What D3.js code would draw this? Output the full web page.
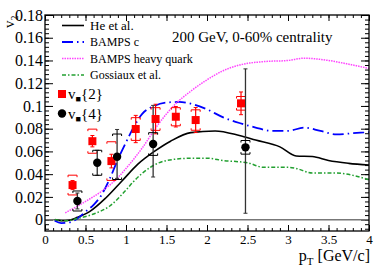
<!DOCTYPE html>
<html>
<head>
<meta charset="utf-8">
<script src="https://cdn.jsdelivr.net/npm/d3@7"></script>
<style>
  body { margin: 0; background: #fff; }
  text { font-family: "Liberation Serif", "DejaVu Serif", serif; fill: #000; }
</style>
</head>
<body>
<svg id="chart" width="382" height="276"></svg>
<script>
// model curves
let hePt = [0.12, 0.2, 0.3, 0.4, 0.55, 0.75, 0.95, 1.15, 1.35, 1.55, 1.8, 2.1, 2.4, 2.6, 2.9, 3.1, 3.3, 3.5, 3.75, 4.0];
let heV2 = [0, -0.001, -0.0005, 0.002, 0.007, 0.019, 0.034, 0.049, 0.060, 0.069, 0.0765, 0.078, 0.074, 0.070, 0.064, 0.056, 0.0555, 0.052, 0.0495, 0.048];

let bampsPt = [0.12, 0.2, 0.3, 0.4, 0.5, 0.6, 0.7, 0.8, 0.9, 1.0, 1.1, 1.2, 1.35, 1.5, 1.65, 1.8, 2.0, 2.2, 2.4, 2.6, 2.8, 3.0, 3.2, 3.4, 3.6, 3.8, 4.0];
let bampsV2 = [-0.001, -0.003, -0.0025, 0.001, 0.007, 0.013, 0.022, 0.036, 0.053, 0.068, 0.082, 0.093, 0.100, 0.103, 0.1035, 0.102, 0.097, 0.090, 0.085, 0.081, 0.078, 0.078, 0.081, 0.078, 0.075, 0.076, 0.077];

let heavyPt = [0.25, 0.5, 0.7, 0.9, 1.0, 1.2, 1.4, 1.6, 1.8, 2.0, 2.2, 2.4, 2.7, 3.0, 3.2, 3.5, 3.8, 4.0];
let heavyV2 = [0.006, 0.016, 0.025, 0.037, 0.045, 0.063, 0.084, 0.101, 0.113, 0.123, 0.131, 0.136, 0.139, 0.140, 0.142, 0.140, 0.136, 0.133];

let gossPt = [0.12, 0.25, 0.4, 0.6, 0.8, 1.0, 1.1, 1.3, 1.5, 1.8, 2.0, 2.2, 2.5, 2.7, 3.0, 3.1, 3.3, 3.6, 3.8, 4.0];
let gossV2 = [0, -0.001, 0.001, 0.005, 0.012, 0.026, 0.034, 0.046, 0.052, 0.054, 0.054, 0.052, 0.050, 0.046, 0.046, 0.045, 0.041, 0.041, 0.039, 0.035];

// v2{2} data
let v22Pt = [0.34, 0.585, 0.82, 1.12, 1.365, 1.615, 1.86, 2.42];
let v22 = [0.0304, 0.069, 0.0515, 0.0797, 0.0885, 0.0905, 0.0876, 0.1023];
let v22Stat = [0.004, 0.005, 0.006, 0.012, 0.013, 0.009, 0.011, 0.010];
let v22Sys = [0.0087, 0.0106, 0.017, 0.010, 0.010, 0.008, 0.009, 0.006];

// v2{4} data
let v24Pt = [0.40, 0.645, 0.89, 1.335, 2.475];
let v24 = [0.0164, 0.050, 0.0553, 0.0665, 0.0636];
let v24StatUp = [0.007, 0.011, 0.024, 0.034, 0.069];
let v24StatDown = [0.007, 0.011, 0.019, 0.029, 0.058];
let v24Sys = [0.0088, 0.011, 0.020, 0.010, 0.006];

let xTicks = [0, 0.5, 1, 1.5, 2, 2.5, 3, 3.5, 4];
let yTicks = [0, 0.02, 0.04, 0.06, 0.08, 0.1, 0.12, 0.14, 0.16, 0.18];

let margin = {top: 15, right: 13, bottom: 45, left: 45},
  width = 382 - margin.left - margin.right,
  height = 276 - margin.top - margin.bottom;

let serif = "'Liberation Serif', 'DejaVu Serif', serif";

let svg = d3.select("#chart");
let g = svg.append("g").attr("transform", `translate(${margin.left}, ${margin.top})`);

let x = d3.scaleLinear().domain([0, 4]).range([0, width]);
let y = d3.scaleLinear().domain([-0.01, 0.18]).range([height, 0]);

// axes, ticks pointing inward
function styleAxis(sel) {
  sel.attr("font-family", serif);
  sel.select(".domain").remove();
  sel.selectAll("line").attr("stroke", "#000").attr("stroke-width", 1);
}

let xMinor = d3.range(0, 41).map(d => d / 10);
let yMinor = d3.range(-2, 46).map(d => d * 0.004);

g.append("g").attr("transform", `translate(0, ${height})`)
  .call(d3.axisBottom(x).tickValues(xMinor).tickSize(-3).tickFormat(""))
  .call(styleAxis);
g.append("g").attr("transform", `translate(0, ${height})`)
  .call(d3.axisBottom(x).tickValues(xTicks).tickSize(-6).tickPadding(4).tickFormat(d3.format("")))
  .call(styleAxis)
  .attr("font-size", 13);
g.append("g")
  .call(d3.axisTop(x).tickValues(xMinor).tickSize(-3).tickFormat(""))
  .call(styleAxis);
g.append("g")
  .call(d3.axisTop(x).tickValues(xTicks).tickSize(-6).tickFormat(""))
  .call(styleAxis);

g.append("g")
  .call(d3.axisLeft(y).tickValues(yMinor).tickSize(-4).tickFormat(""))
  .call(styleAxis);
g.append("g")
  .call(d3.axisLeft(y).tickValues(yTicks).tickSize(-8).tickPadding(2).tickFormat(d3.format("")))
  .call(styleAxis)
  .attr("font-size", 16);
g.append("g").attr("transform", `translate(${width}, 0)`)
  .call(d3.axisRight(y).tickValues(yMinor).tickSize(-4).tickFormat(""))
  .call(styleAxis);
g.append("g").attr("transform", `translate(${width}, 0)`)
  .call(d3.axisRight(y).tickValues(yTicks).tickSize(-8).tickFormat(""))
  .call(styleAxis);

// zero line
g.append("line")
  .attr("x1", 0).attr("x2", width)
  .attr("y1", y(0)).attr("y2", y(0))
  .attr("stroke", "#777").attr("stroke-width", 1.5);

// model curves
let line = d3.line().x(d => x(d[0])).y(d => y(d[1])).curve(d3.curveMonotoneX);
let models = [
  {pt: hePt, v2: heV2, color: "#000", dash: null, w: 1.6, name: "He et al."},
  {pt: bampsPt, v2: bampsV2, color: "#0000ff", dash: "11,4,1.5,4", w: 1.8, name: "BAMPS c"},
  {pt: heavyPt, v2: heavyV2, color: "#ff44ff", dash: "1.5,1", w: 1.5, name: "BAMPS heavy quark"},
  {pt: gossPt, v2: gossV2, color: "#22a030", dash: "4,2,1.5,2", w: 1.5, name: "Gossiaux et al."}
];
models.forEach(m => {
  g.append("path")
    .datum(m.pt.map((p, i) => [p, m.v2[i]]))
    .attr("d", line)
    .attr("fill", "none")
    .attr("stroke", m.color)
    .attr("stroke-width", m.w)
    .attr("stroke-dasharray", m.dash);
});

// systematic brackets
function bracket(px, py, err, color) {
  let cx = x(px), half = 4.5, lip = 2;
  let top = y(py + err), bot = y(py - err);
  g.append("path")
    .attr("d", `M${cx - half},${top + lip}V${top}H${cx + half}V${top + lip}` +
               `M${cx - half},${bot - lip}V${bot}H${cx + half}V${bot - lip}`)
    .attr("fill", "none").attr("stroke", color).attr("stroke-width", 1);
}
function statBar(px, lo, hi, color, w) {
  let cx = x(px);
  g.append("line").attr("x1", cx).attr("x2", cx).attr("y1", y(hi)).attr("y2", y(lo))
    .attr("stroke", color).attr("stroke-width", w);
  [lo, hi].forEach(v => {
    g.append("line").attr("x1", cx - 2).attr("x2", cx + 2).attr("y1", y(v)).attr("y2", y(v))
      .attr("stroke", color).attr("stroke-width", 1);
  });
}

v22Pt.forEach((p, i) => {
  statBar(p, v22[i] - v22Stat[i], v22[i] + v22Stat[i], "#ff0000", 1.2);
  bracket(p, v22[i], v22Sys[i], "#ff0000");
});
v24Pt.forEach((p, i) => {
  statBar(p, v24[i] - v24StatDown[i], v24[i] + v24StatUp[i], "#333", 1.3);
  bracket(p, v24[i], v24Sys[i], "#000");
});

g.selectAll(".sq")
  .data(v22Pt)
  .join("rect")
  .attr("class", "sq")
  .attr("x", d => x(d) - 4)
  .attr("y", (d, i) => y(v22[i]) - 4)
  .attr("width", 8).attr("height", 8)
  .attr("fill", "#ff0000");

g.selectAll(".dot")
  .data(v24Pt)
  .join("circle")
  .attr("class", "dot")
  .attr("cx", d => x(d))
  .attr("cy", (d, i) => y(v24[i]))
  .attr("r", 4.2)
  .attr("fill", "#000");

// frame
g.append("rect")
  .attr("width", width).attr("height", height)
  .attr("fill", "none").attr("stroke", "#000").attr("stroke-width", 1.3);

// legend
let legendY = [25.5, 42, 58.5, 75];
models.forEach((m, i) => {
  svg.append("line")
    .attr("x1", 62).attr("x2", 84)
    .attr("y1", legendY[i]).attr("y2", legendY[i])
    .attr("stroke", m.color).attr("stroke-width", m.w)
    .attr("stroke-dasharray", m.dash);
  svg.append("text")
    .attr("x", 90).attr("y", legendY[i] + 4.2)
    .attr("font-size", i === 0 ? 13 : 12)
    .text(m.name);
});

svg.append("rect").attr("x", 58).attr("y", 90).attr("width", 8).attr("height", 8).attr("fill", "#ff0000");
svg.append("circle").attr("cx", 62).attr("cy", 113.5).attr("r", 4.2).attr("fill", "#000");

[["{2}", 99], ["{4}", 119]].forEach(([lab, by]) => {
  let t = svg.append("text").attr("x", 68).attr("y", by).attr("font-size", 15);
  t.append("tspan").text("v");
  t.append("tspan").attr("dy", 3).attr("font-size", 9).text("■");
  t.append("tspan").attr("dy", -3).text(lab);
});

// title
svg.append("text")
  .attr("x", 172).attr("y", 41.5)
  .attr("font-size", 15)
  .text("200 GeV, 0-60% centrality");

// axis titles
let yt = svg.append("text")
  .attr("transform", "translate(14, 28) rotate(-90)")
  .attr("font-size", 15);
yt.append("tspan").text("v");
yt.append("tspan").attr("dy", 4).attr("font-size", 10).text("2");

let xt = svg.append("text")
  .attr("x", 370).attr("y", 261)
  .attr("text-anchor", "end")
  .attr("font-size", 16);
xt.append("tspan").text("p");
xt.append("tspan").attr("dy", 4).attr("font-size", 11).text("T");
xt.append("tspan").attr("dy", -4).text(" [GeV/c]");
</script>
</body>
</html>
